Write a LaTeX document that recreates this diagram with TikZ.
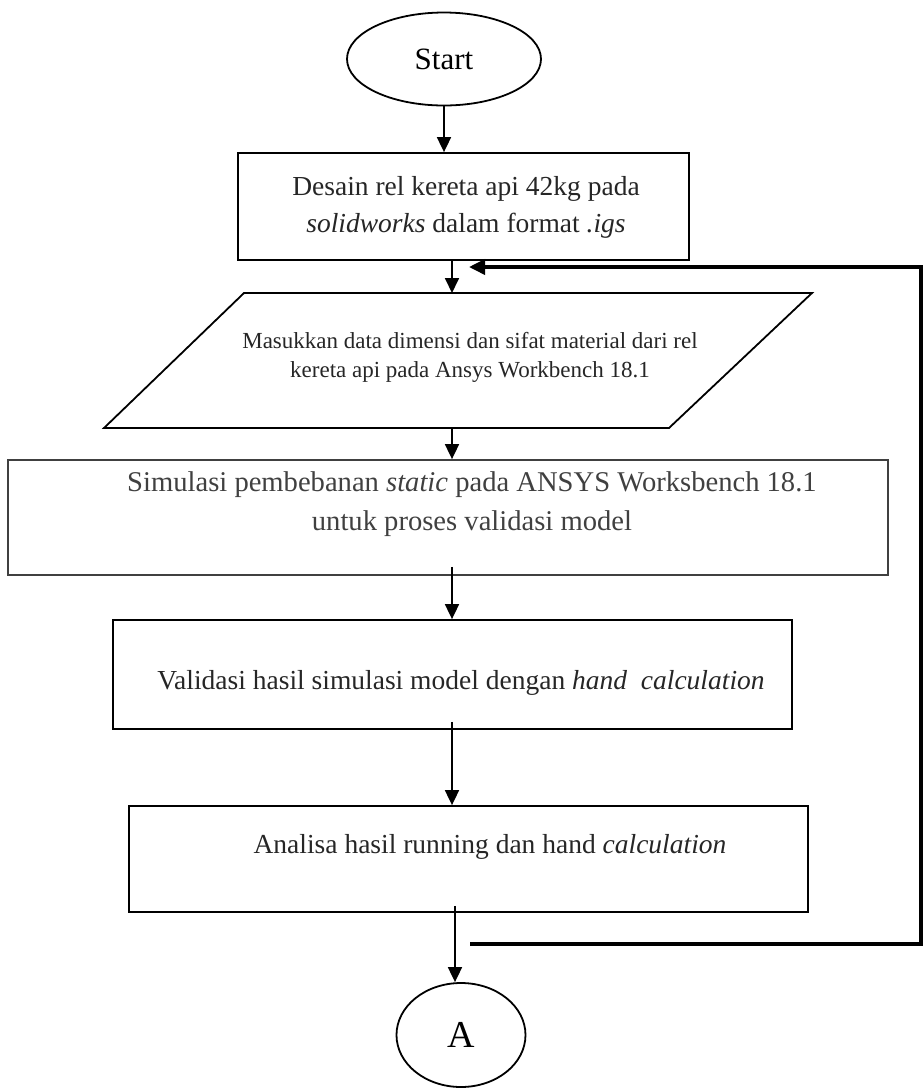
\documentclass[tikz,border=0pt]{standalone}
\usepackage{fontspec}
\setmainfont{Liberation Serif}
\usetikzlibrary{shapes.geometric, arrows.meta, positioning}

\begin{document}
\begin{tikzpicture}[x=0.5pt, y=-0.5pt,
  box/.style={draw, line width=0.9pt, rectangle, inner sep=0pt},
  oval/.style={draw, line width=0.9pt, ellipse, inner sep=0pt},
  txt/.style={align=center, text=black!85, inner sep=0pt},
  arr/.style={line width=0.9pt, -{Triangle[length=7.5pt, width=7pt]}},
  back/.style={line width=1.8pt, -{Triangle[length=8pt, width=7.5pt]}}]
\useasboundingbox (0, 0) rectangle (924, 1089);
\coordinate (spine) at (452, 0);
\coordinate (low) at (455, 0);
% start and end
\node [oval, minimum width=97pt, minimum height=46.5pt, font=\fontsize{15.5}{18}\selectfont] (start) at (444, 59) {Start};
\node [oval, minimum width=64.5pt, minimum height=52pt, font=\fontsize{19}{22}\selectfont] (conn) at (461, 1035) {A};
% process boxes
\node [box, minimum width=225.5pt, minimum height=53.5pt] (box1) at (463.5, 206.5) {};
\node [box, minimum width=440pt, minimum height=57.5pt, draw=black!75] (box3) at (448, 517.5) {};
\node [box, minimum width=339.5pt, minimum height=54.5pt] (box4) at (452.5, 674.5) {};
\node [box, minimum width=339.5pt, minimum height=53pt] (box5) at (468.5, 859) {};
% input
\draw [line width=0.9pt] (244, 293) -- (812, 293) -- (669, 428) -- (104, 428) -- cycle;
\coordinate (partop) at (452, 293);
\coordinate (parbot) at (452, 428);
% texts
\node [txt, font=\fontsize{13.75}{18.5}\selectfont] (t1) at (466, 207) {Desain rel kereta api 42kg pada\\ \textit{solidworks} dalam format \textit{.igs}};
\node [txt, font=\fontsize{11.5}{14.5}\selectfont] (t2) at (470, 357) {Masukkan data dimensi dan sifat material dari rel\\ kereta api pada Ansys Workbench 18.1};
\node [txt, font=\fontsize{14.3}{19.5}\selectfont, text=black!75] (t3) at (472, 504) {Simulasi pembebanan \textit{static} pada ANSYS Worksbench 18.1\\ untuk proses validasi model};
\node [txt, font=\fontsize{13.75}{18}\selectfont] (t4) at (461, 683) {Validasi hasil simulasi model dengan \textit{hand}\ \ \textit{calculation}};
\node [txt, font=\fontsize{13.75}{18}\selectfont] (t5) at (490, 847) {Analisa hasil running dan hand \textit{calculation}};
% arrows
\draw [arr] (start) -- (start |- box1.north);
\draw [arr] (box1.south -| spine) -- (partop);
\draw [arr] (parbot) -- (box3.north -| spine);
\draw [arr] (box3.south -| spine) ++(0, -9) -- (box4.north -| spine);
\draw [arr] (box4.south -| spine) ++(0, -8) -- (box5.north -| spine);
\draw [arr] (box5.south -| low) ++(0, -7) -- (conn.north -| low);
% loop back
\coordinate (fbin) at (469, 267);
\coordinate (fbout) at (470, 944);
\draw [back] (fbout) -- (921, 944) -- (921, 267) -- (fbin);
\end{tikzpicture}
\end{document}
